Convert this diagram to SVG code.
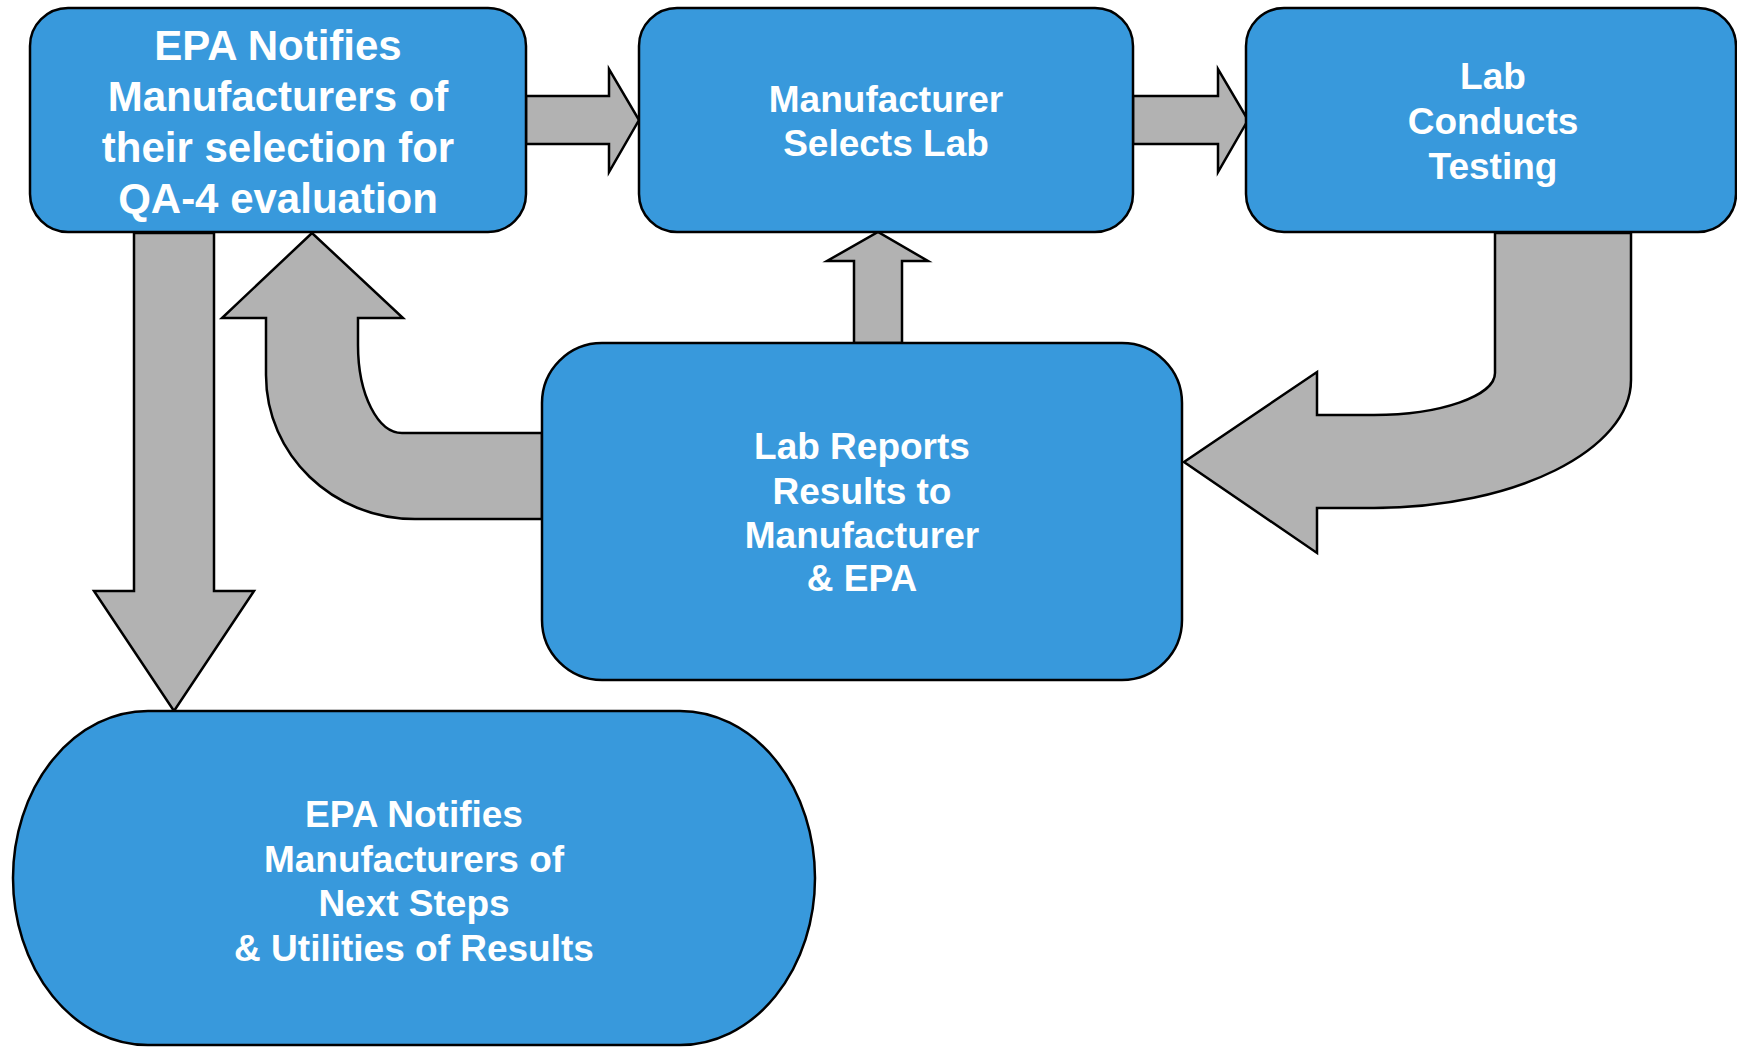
<svg xmlns="http://www.w3.org/2000/svg" width="1737" height="1047" viewBox="0 0 1737 1047">
<style>
.box{fill:#3899dc;stroke:#000;stroke-width:2.5}
.arr{fill:#b2b2b2;stroke:#000;stroke-width:2.5;stroke-linejoin:miter}
.t{font-family:"Liberation Sans",Arial,sans-serif;font-weight:bold;fill:#fff;text-anchor:middle;font-size:37px}
.t1{font-size:42px}
</style>
<rect width="1737" height="1047" fill="#fff"/>
<g id="connectors">
<path class="arr" d="M526,96 L609,96 L609,69 L639,120 L609,172 L609,144 L526,144 Z"/>
<path class="arr" d="M1133,96 L1218,96 L1218,69 L1248,120 L1218,172 L1218,144 L1133,144 Z"/>
<path class="arr" d="M134,233 L214,233 L214,591 L254,591 L174,711 L94,591 L134,591 Z"/>
<path class="arr" d="M542,433 L402,433 C378,433 358,395 358,345 L358,318 L403,318 L312,233 L222,318 L266,318 L266,375 C266,455 333,519 415,519 L542,519 Z"/>
<path class="arr" d="M854,343 L854,261 L827,261 L878,232 L928,261 L902,261 L902,343 Z"/>
<path class="arr" d="M1495,233 L1631,233 L1631,380 C1631,450 1515,508 1374,508 L1317,508 L1317,553 L1184,462 L1317,372 L1317,415 L1374,415 C1440,415 1495,396 1495,373 Z"/>
</g>
<g id="node1">
<rect class="box" x="30" y="8" width="496" height="224" rx="38" ry="38"/>
<text class="t t1" x="278" y="60">EPA Notifies</text>
<text class="t t1" x="278" y="111">Manufacturers of</text>
<text class="t t1" x="278" y="162">their selection for</text>
<text class="t t1" x="278" y="213">QA-4 evaluation</text>
</g>
<g id="node2">
<rect class="box" x="639" y="8" width="494" height="224" rx="38" ry="38"/>
<text class="t" x="886" y="112">Manufacturer</text>
<text class="t" x="886" y="156">Selects Lab</text>
</g>
<g id="node3">
<rect class="box" x="1246" y="8" width="490" height="224" rx="38" ry="38"/>
<text class="t" x="1493" y="89">Lab</text>
<text class="t" x="1493" y="134">Conducts</text>
<text class="t" x="1493" y="179">Testing</text>
</g>
<g id="node4">
<rect class="box" x="542" y="343" width="640" height="337" rx="60" ry="60"/>
<text class="t" x="862" y="459">Lab Reports</text>
<text class="t" x="862" y="504">Results to</text>
<text class="t" x="862" y="548">Manufacturer</text>
<text class="t" x="862" y="591">&amp; EPA</text>
</g>
<g id="node5">
<rect class="box" x="13" y="711" width="802" height="334" rx="135" ry="167"/>
<text class="t" x="414" y="827">EPA Notifies</text>
<text class="t" x="414" y="872">Manufacturers of</text>
<text class="t" x="414" y="916">Next Steps</text>
<text class="t" x="414" y="961">&amp; Utilities of Results</text>
</g>
</svg>
